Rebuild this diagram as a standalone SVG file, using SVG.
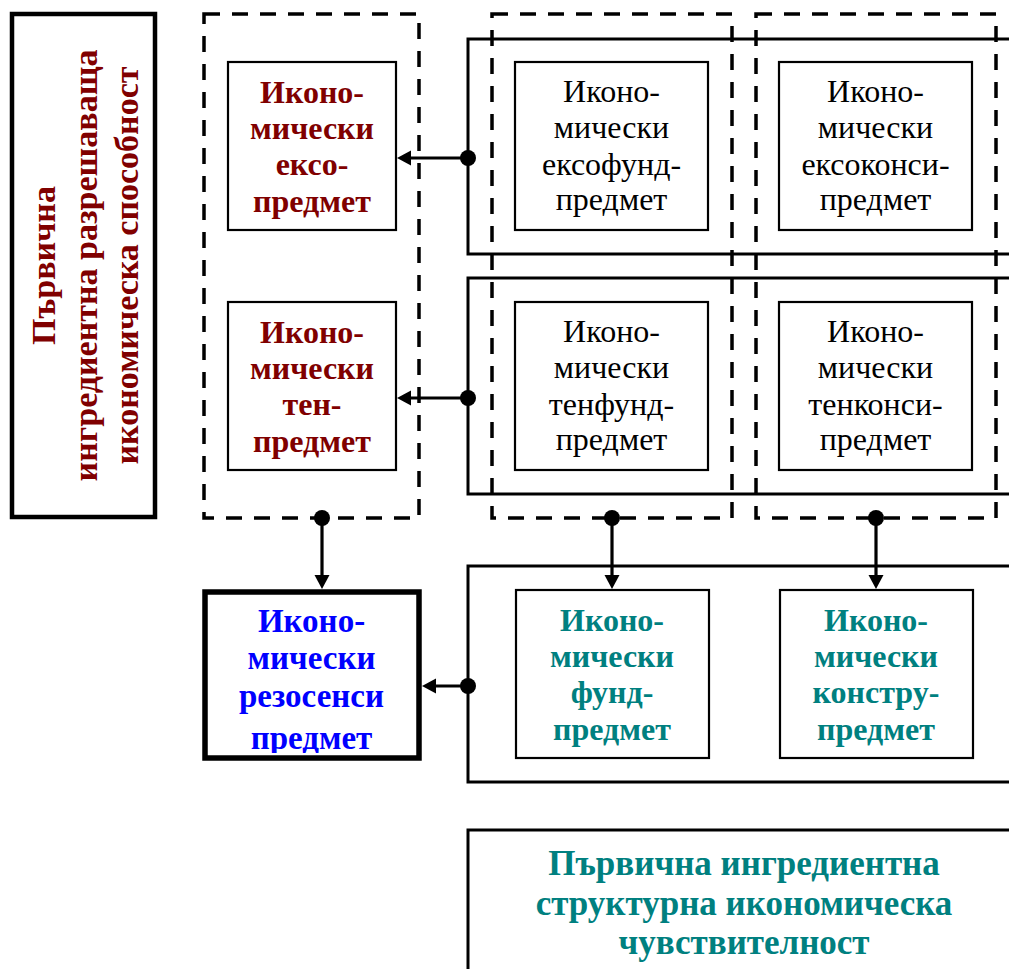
<svg xmlns="http://www.w3.org/2000/svg" width="1009" height="969" viewBox="0 0 1009 969">
<style>
.t{font-family:"Liberation Serif","Times New Roman",serif;text-anchor:middle}
.b{font-weight:bold}
.red{fill:#800000}
.teal{fill:#008080}
.blue{fill:#0000FF}
.blk{fill:#000}
.node{fill:#fff;stroke:#000;stroke-width:2.2}
.outer{fill:none;stroke:#000;stroke-width:3}
.dash{fill:none;stroke:#000;stroke-width:3.5;stroke-dasharray:16 12}
.conn{stroke:#000;stroke-width:3.2;fill:none}
</style>
<defs>
<marker id="arr" markerUnits="userSpaceOnUse" markerWidth="16" markerHeight="16" refX="6" refY="7.5" orient="auto">
<path d="M0,0 L14,7.5 L0,15 z" fill="#000"/>
</marker>
<marker id="dot" markerUnits="userSpaceOnUse" markerWidth="18" markerHeight="18" refX="9" refY="9" orient="auto">
<circle cx="9" cy="9" r="8" fill="#000"/>
</marker>
<clipPath id="rezoClip"><rect x="206" y="593" width="211" height="160"/></clipPath>
</defs>
<rect width="1009" height="969" fill="#fff"/>

<g id="frames">
<rect class="outer" x="468" y="39" width="600" height="215"/>
<rect class="outer" x="468" y="278" width="600" height="216"/>
<rect class="outer" x="468" y="566" width="600" height="216"/>
<rect class="dash" x="204" y="14" width="215" height="504"/>
<rect class="dash" x="492" y="14" width="240" height="504"/>
<rect class="dash" x="756" y="14" width="240" height="504"/>
</g>

<g id="left-label">
<rect x="12" y="14" width="143" height="503" fill="#fff" stroke="#000" stroke-width="4.5"/>
<g class="t b red" font-size="34">
<text transform="translate(55,265.5) rotate(-90)">Първична</text>
<text transform="translate(97,265.5) rotate(-90)">ингредиентна разрешаваща</text>
<text transform="translate(138,265.5) rotate(-90)">икономическа способност</text>
</g>
</g>

<g id="node-exo">
<rect class="node" x="228" y="62" width="168" height="168"/>
<text class="t b red" font-size="32"><tspan x="312" y="103">Иконо-</tspan><tspan x="312" y="139">мически</tspan><tspan x="312" y="175">ексо-</tspan><tspan x="312" y="212">предмет</tspan></text>
</g>

<g id="node-ten">
<rect class="node" x="228" y="302" width="168" height="168"/>
<text class="t b red" font-size="32"><tspan x="312" y="343">Иконо-</tspan><tspan x="312" y="379">мически</tspan><tspan x="312" y="415">тен-</tspan><tspan x="312" y="452">предмет</tspan></text>
</g>

<g id="node-exofund">
<rect class="node" x="515" y="62" width="193" height="168"/>
<text class="t blk" font-size="32"><tspan x="611.5" y="102">Иконо-</tspan><tspan x="611.5" y="138">мически</tspan><tspan x="611.5" y="175">ексофунд-</tspan><tspan x="611.5" y="210">предмет</tspan></text>
</g>

<g id="node-exokonsi">
<rect class="node" x="779" y="62" width="193" height="168"/>
<text class="t blk" font-size="32"><tspan x="875.5" y="102">Иконо-</tspan><tspan x="875.5" y="138">мически</tspan><tspan x="875.5" y="175">ексоконси-</tspan><tspan x="875.5" y="210">предмет</tspan></text>
</g>

<g id="node-tenfund">
<rect class="node" x="515" y="302" width="193" height="168"/>
<text class="t blk" font-size="32"><tspan x="611.5" y="342">Иконо-</tspan><tspan x="611.5" y="378">мически</tspan><tspan x="611.5" y="415">тенфунд-</tspan><tspan x="611.5" y="450">предмет</tspan></text>
</g>

<g id="node-tenkonsi">
<rect class="node" x="779" y="302" width="193" height="168"/>
<text class="t blk" font-size="32"><tspan x="875.5" y="342">Иконо-</tspan><tspan x="875.5" y="378">мически</tspan><tspan x="875.5" y="415">тенконси-</tspan><tspan x="875.5" y="450">предмет</tspan></text>
</g>

<g id="node-rezo">
<rect x="205" y="592" width="214" height="166" fill="#fff" stroke="#000" stroke-width="5.5"/>
<text class="t b blue" font-size="33" clip-path="url(#rezoClip)"><tspan x="311.5" y="632">Иконо-</tspan><tspan x="311.5" y="669">мически</tspan><tspan x="311.5" y="707">резосенси</tspan><tspan x="311.5" y="749">предмет</tspan></text>
</g>

<g id="node-fund">
<rect class="node" x="516" y="590" width="193" height="168"/>
<text class="t b teal" font-size="32"><tspan x="612" y="631">Иконо-</tspan><tspan x="612" y="667">мически</tspan><tspan x="612" y="703">фунд-</tspan><tspan x="612" y="740">предмет</tspan></text>
</g>

<g id="node-konstru">
<rect class="node" x="780" y="590" width="193" height="168"/>
<text class="t b teal" font-size="32"><tspan x="876" y="631">Иконо-</tspan><tspan x="876" y="667">мически</tspan><tspan x="876" y="703">констру-</tspan><tspan x="876" y="740">предмет</tspan></text>
</g>

<g id="node-sensitivity">
<rect class="outer" x="468" y="830" width="600" height="200"/>
<text class="t b teal" font-size="35"><tspan x="744" y="875">Първична ингредиентна</tspan><tspan x="744" y="915">структурна икономическа</tspan><tspan x="744" y="954">чувствителност</tspan></text>
</g>

<g id="connectors">
<line class="conn" x1="468" y1="158" x2="405" y2="158" marker-start="url(#dot)" marker-end="url(#arr)"/>
<line class="conn" x1="468" y1="398" x2="405" y2="398" marker-start="url(#dot)" marker-end="url(#arr)"/>
<line class="conn" x1="322" y1="518" x2="322" y2="581" marker-start="url(#dot)" marker-end="url(#arr)"/>
<line class="conn" x1="612" y1="518" x2="612" y2="581" marker-start="url(#dot)" marker-end="url(#arr)"/>
<line class="conn" x1="876" y1="518" x2="876" y2="581" marker-start="url(#dot)" marker-end="url(#arr)"/>
<line class="conn" x1="468" y1="686" x2="430" y2="686" marker-start="url(#dot)" marker-end="url(#arr)"/>
</g>
</svg>
